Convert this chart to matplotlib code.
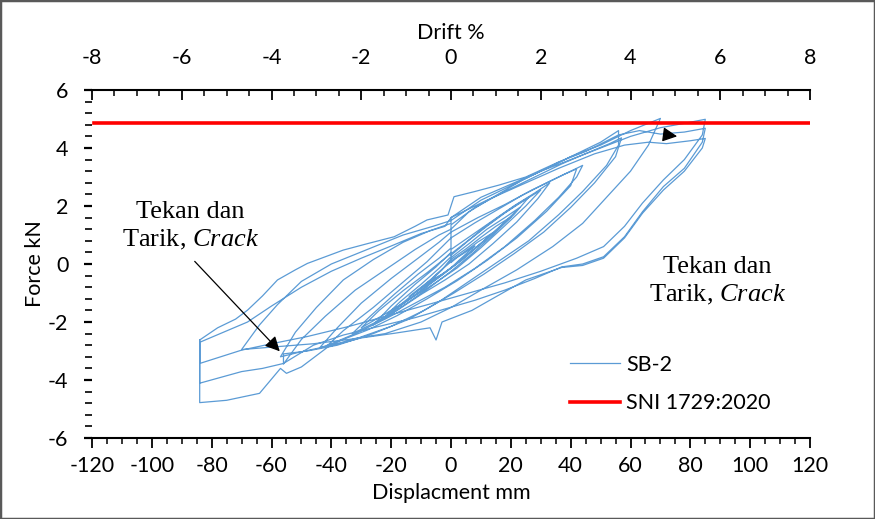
import numpy as np
import matplotlib.pyplot as plt
from matplotlib.patches import Rectangle
from matplotlib.ticker import MultipleLocator

# SB-2 hysteresis (displacement mm, force kN)
cyc1_d = [0, 2, 5, 8, 6, 3, 0, -3, -6, -8, -6, -3, 0]
cyc1_f = [0.05, 0.22, 0.42, 0.62, 0.44, 0.16, -0.14, -0.36, -0.52, -0.68, -0.46, -0.18, 0.08]

cyc2_d = [0, 4, 9, 14, 11, 6, 1, -4, -9, -14, -10, -5, 0]
cyc2_f = [0.1, 0.38, 0.76, 1.08, 0.8, 0.36, -0.06, -0.42, -0.78, -1.12, -0.8, -0.4, 0.12]

cyc3_d = [0, 5, 10, 15, 20, 16, 10, 4, -2, -8, -14, -20, -15, -9, -3, 0]
cyc3_f = [0.16, 0.52, 0.92, 1.3, 1.62, 1.24, 0.7, 0.16, -0.3, -0.76, -1.22, -1.66, -1.24, -0.74, -0.2, 0.18]

cyc4_d = [0, 6, 12, 18, 23, 18, 11, 4, -3, -10, -17, -23, -17, -10, -4, 0]
cyc4_f = [0.22, 0.7, 1.2, 1.6, 1.95, 1.45, 0.8, 0.2, -0.38, -0.92, -1.45, -1.9, -1.3, -0.7, -0.15, 0.25]

cyc4b_d = [0, 5, 11, 17, 22, 26, 21, 14, 7, 0, -7, -14, -21, -26, -20, -12, -5, 0]
cyc4b_f = [0.35, 0.75, 1.25, 1.7, 2.05, 2.3, 1.7, 1.0, 0.35, -0.25, -0.8, -1.3, -1.8, -2.1, -1.45, -0.7, -0.1, 0.4]

cyc5_d = [0, 6, 12, 18, 24, 30, 25, 18, 10, 2, -6, -14, -22, -30, -24, -16, -8, 0]
cyc5_f = [0.3, 0.82, 1.3, 1.76, 2.16, 2.55, 2.0, 1.32, 0.56, -0.14, -0.7, -1.22, -1.72, -2.2, -1.6, -0.92, -0.3, 0.36]

cyc5b_d = [0, 7, 14, 21, 28, 33, 29, 22, 14, 6, -2, -10, -18, -26, -33, -27, -19, -11, -4, 0]
cyc5b_f = [0.5, 1.0, 1.5, 2.0, 2.45, 2.8, 2.25, 1.45, 0.7, 0.0, -0.55, -1.05, -1.6, -2.05, -2.4, -1.8, -1.05, -0.35, 0.2, 0.55]

cyc6_d = [0, 8, 16, 24, 32, 38, 42, 40, 32, 22, 12, 2, -8, -18, -28, -36, -42, -36, -26, -16, -8, 0]
cyc6_f = [0.9, 1.42, 1.9, 2.38, 2.8, 3.1, 3.28, 2.7, 1.82, 0.9, 0.12, -0.58, -1.2, -1.78, -2.28, -2.6, -2.88,
          -2.3, -1.5, -0.62, 0.08, 0.9]

cyc6b_d = [0, 9, 18, 27, 35, 41, 44, 42, 36, 28, 18, 8, -2, -12, -22, -32, -40, -44, -38, -30, -20, -11, -4, 0]
cyc6b_f = [1.1, 1.6, 2.05, 2.55, 2.95, 3.25, 3.4, 3.0, 2.3, 1.5, 0.6, -0.15, -0.8, -1.35, -1.9, -2.4, -2.75, -2.9,
           -2.2, -1.35, -0.5, 0.2, 0.75, 1.1]

cyc7_d = [0, 6, 14, 24, 34, 44, 50, 56, 56, 52, 44, 36, 26, 16, 6, -4, -14, -26, -38, -48, -56, -56, -50, -42,
          -32, -22, -12, -4, 0]
cyc7_f = [1.2, 1.8, 2.3, 2.9, 3.4, 3.9, 4.2, 4.6, 4.1, 3.4, 2.5, 1.7, 0.8, 0.1, -0.6, -1.3, -1.9, -2.4, -2.8, -3.0,
          -3.1, -3.45, -2.6, -1.8, -0.9, -0.2, 0.5, 1.0, 1.2]

cyc7b_d = [0, 8, 17, 27, 37, 46, 53, 57, 55, 48, 40, 31, 21, 11, 1, -9, -20, -31, -42, -51, -57, -52, -45, -36,
           -26, -16, -7, 0]
cyc7b_f = [1.35, 1.95, 2.45, 2.95, 3.45, 3.85, 4.15, 4.35, 3.7, 2.8, 1.95, 1.1, 0.35, -0.35, -1.0, -1.6, -2.15,
           -2.55, -2.85, -3.05, -3.2, -2.35, -1.5, -0.55, 0.15, 0.75, 1.15, 1.4]

cyc8_d = [0, 10, 20, 30, 40, 50, 60, 70, 66, 60, 52, 44, 34, 22, 10, 0, -10, -22, -34, -46, -58, -70, -64, -58,
          -50, -40, -28, -16, -6, 0]
cyc8_f = [1.5, 2.2, 2.7, 3.2, 3.7, 4.1, 4.6, 5.02, 4.1, 3.2, 2.3, 1.4, 0.6, -0.2, -0.9, -1.5, -2.0, -2.4, -2.6,
          -2.75, -2.85, -2.95, -2.1, -1.4, -0.6, 0.0, 0.5, 1.0, 1.3, 1.5]

cyc9a_d = [0, 10, 20, 30, 40, 50, 60, 70, 78, 85, 84, 78, 71, 64, 58, 51, 42, 30, 18, 6, -6, -20, -34, -48, -60,
           -70, -84, -84, -78, -72, -68, -63, -58, -52, -48, -42, -36, -28, -19, -12, -8, -1, 1]
cyc9a_f = [1.6, 2.3, 2.75, 3.2, 3.6, 4.0, 4.4, 4.7, 4.85, 4.99, 4.45, 3.6, 2.9, 2.1, 1.3, 0.6, 0.2, -0.25, -0.65,
           -1.0, -1.35, -1.75, -2.15, -2.5, -2.75, -2.97, -3.43, -2.62, -2.2, -1.9, -1.59, -1.1, -0.55, -0.2, 0.02,
           0.25, 0.48, 0.7, 0.94, 1.3, 1.52, 1.69, 2.32]

cyc9b_d = [1, 8, 16, 25, 36, 45, 56, 63, 70, 78, 85, 84, 78, 71, 64, 58, 51, 44, 37, 28, 18, 8, -2, -12, -24, -36,
           -46, -56, -63, -70, -84, -84, -76, -68, -60, -50, -40, -30, -20, -10, -2, 0]
cyc9b_f = [2.32, 2.5, 2.72, 3.0, 3.52, 3.88, 4.45, 4.6, 4.48, 4.55, 4.68, 4.2, 3.3, 2.67, 1.8, 0.94, 0.25, 0.0,
           -0.1, -0.5, -0.9, -1.25, -1.55, -1.85, -2.15, -2.45, -2.8, -3.43, -3.6, -3.71, -4.11, -2.7, -2.35, -2.0,
           -1.45, -0.8, -0.25, 0.2, 0.62, 1.05, 1.3, 1.6]

cyc9c_d = [0, 12, 24, 36, 48, 58, 66, 72, 80, 85, 84, 78, 71, 64, 58, 51, 44, 37, 25, 15, 7, -3, -5, -7, -19, -30,
           -41, -50, -55, -57, -64, -75, -84, -84]
cyc9c_f = [1.6, 2.2, 2.75, 3.3, 3.8, 4.1, 4.2, 4.15, 4.25, 4.33, 4.0, 3.2, 2.55, 1.75, 0.9, 0.2, -0.05, -0.12, -0.55,
           -1.13, -1.6, -2.0, -2.62, -2.2, -2.39, -2.55, -2.85, -3.55, -3.77, -3.6, -4.46, -4.7, -4.78, -2.62]

sni_limit = 4.87  # kN

all_d = [cyc1_d, cyc2_d, cyc3_d, cyc4_d, cyc4b_d, cyc5_d, cyc5b_d, cyc6_d, cyc6b_d, cyc7_d, cyc7b_d, cyc8_d,
         cyc9a_d, cyc9b_d, cyc9c_d]
all_f = [cyc1_f, cyc2_f, cyc3_f, cyc4_f, cyc4b_f, cyc5_f, cyc5b_f, cyc6_f, cyc6b_f, cyc7_f, cyc7b_f, cyc8_f,
         cyc9a_f, cyc9b_f, cyc9c_f]
disp = np.concatenate(all_d)
force = np.concatenate(all_f)

plt.rcParams['font.family'] = 'Lato'
plt.rcParams['axes.unicode_minus'] = False
plt.rcParams['mathtext.fontset'] = 'custom'
plt.rcParams['mathtext.rm'] = 'Liberation Serif'
plt.rcParams['mathtext.it'] = 'Liberation Serif:italic'

fs = 15.5

fig = plt.figure(figsize=(8.75, 5.19), dpi=100)
ax = fig.add_axes([92 / 875, 1 - 438 / 519, 718 / 875, 348 / 519])

ax.plot(disp, force, color='#5B9BD5', lw=0.9, label='SB-2')
ax.axhline(sni_limit, xmin=0.003, color='#FF0000', lw=2.6, label='SNI 1729:2020')

ax.set_xlim(-120, 120)
ax.set_ylim(-6, 6)
ax.xaxis.set_major_locator(MultipleLocator(20))
ax.xaxis.set_minor_locator(MultipleLocator(5))
ax.yaxis.set_major_locator(MultipleLocator(2))
ax.yaxis.set_minor_locator(MultipleLocator(0.4))
for s in ['left', 'right', 'top']:
    ax.spines[s].set_visible(False)
ax.spines['bottom'].set_linewidth(1.5)
ax.tick_params(axis='x', which='major', direction='out', length=7, width=1.3, labelsize=fs, pad=6)
ax.tick_params(axis='x', which='minor', direction='out', length=4, width=1.1)
ax.tick_params(axis='y', which='major', direction='out', length=6, width=1.6, labelsize=fs, pad=11)
ax.tick_params(axis='y', which='minor', direction='out', length=5, width=1.2)
ax.set_xlabel('Displacment mm', fontsize=fs, labelpad=5)
ax.set_ylabel('Force kN', fontsize=fs)
ax.yaxis.set_label_coords(-0.066, 0.5)

# drift axis on top (8 % = 120 mm)
ax2 = ax.twiny()
ax2.set_xlim(-8, 8)
ax2.xaxis.set_major_locator(MultipleLocator(2))
ax2.xaxis.set_minor_locator(MultipleLocator(0.5))
for s in ['left', 'right', 'bottom']:
    ax2.spines[s].set_visible(False)
ax2.spines['top'].set_linewidth(1.5)
ax2.tick_params(axis='x', which='major', direction='in', length=7, width=1.3, labelsize=fs, pad=16)
ax2.tick_params(axis='x', which='minor', direction='in', length=4, width=1.1)
ax2.set_xlabel('Drift %', fontsize=fs, labelpad=6)

serif = dict(family='Liberation Serif', fontsize=19, ha='center')
ax.text(-87, 1.6, 'Tekan dan', **serif)
ax.text(-87, 0.6, 'Tarik, $\\it{Crack}$', **serif)
ax.text(89, -0.3, 'Tekan dan', **serif)
ax.text(89, -1.3, 'Tarik, $\\it{Crack}$', **serif)

ax.annotate('', xy=(-56.6, -3.08), xytext=(-86.3, 0.16),
            arrowprops=dict(arrowstyle='-|>', color='black', lw=0.9, mutation_scale=22))
ax.annotate('', xy=(76.5, 4.39), xytext=(71.5, 4.46),
            arrowprops=dict(arrowstyle='-|>', color='black', lw=0.9, mutation_scale=22))

ax.legend(loc='upper left', bbox_to_anchor=(570 / 875, 1 - 355 / 519), bbox_transform=fig.transFigure,
          frameon=False, fontsize=fs, handlelength=2.3, handletextpad=0.3, labelspacing=0.85,
          borderpad=0, borderaxespad=0)

fig.patches.append(Rectangle((0, 0), 1, 1, transform=fig.transFigure, fill=False,
                             edgecolor='#595959', lw=2.5))

fig.savefig('out.png', dpi=100)
